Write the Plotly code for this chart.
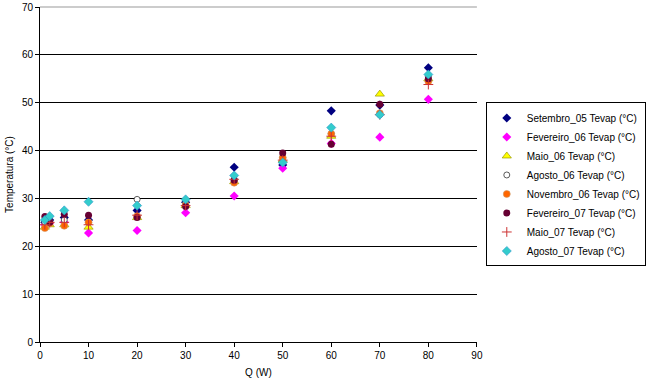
import plotly.graph_objects as go

q_w = [1, 2, 5, 10, 20, 30, 40, 50, 60, 70, 80]

setembro_05 = [25.0, 25.5, 26.0, 25.5, 27.5, 29.2, 36.5, 37.0, 48.3, 49.5, 57.3]
fevereiro_06 = [24.5, 24.8, 25.0, 22.8, 23.3, 27.0, 30.5, 36.3, 41.5, 42.8, 50.7]
maio_06 = [24.0, 24.5, 24.5, 24.0, 26.0, 28.5, 33.5, 38.0, 43.0, 51.8, 55.0]
agosto_06 = [25.0, 25.2, 25.5, 25.0, 29.8, 29.0, 34.0, 38.5, 43.5, 47.5, 55.5]
novembro_06 = [23.8, 24.8, 24.3, 25.0, 26.3, 28.6, 33.3, 38.5, 43.5, 47.8, 54.5]
fevereiro_07 = [26.2, 25.0, 26.7, 26.5, 26.0, 28.3, 33.8, 39.5, 41.3, 49.7, 55.0]
maio_07 = [24.5, 25.0, 25.0, 24.5, 26.5, 28.5, 34.0, 38.0, 43.0, 47.5, 53.8]
agosto_07 = [25.5, 26.3, 27.5, 29.3, 28.5, 29.8, 34.8, 37.5, 44.8, 47.5, 55.9]

series = [
    ("Setembro_05 Tevap (°C)", setembro_05, dict(symbol="diamond", color="#000080", size=7)),
    ("Fevereiro_06 Tevap (°C)", fevereiro_06, dict(symbol="diamond", color="#FF00FF", size=7)),
    ("Maio_06 Tevap (°C)", maio_06, dict(symbol="triangle-up", color="#FFFF00", size=8, line=dict(color="#999900", width=0.7))),
    ("Agosto_06 Tevap (°C)", agosto_06, dict(symbol="circle", color="#FFFFFF", size=6, line=dict(color="#333333", width=0.8))),
    ("Novembro_06 Tevap (°C)", novembro_06, dict(symbol="circle", color="#FF6600", size=7, line=dict(color="#CC9966", width=0.6))),
    ("Fevereiro_07 Tevap (°C)", fevereiro_07, dict(symbol="circle", color="#660033", size=7)),
    ("Maio_07 Tevap (°C)", maio_07, dict(symbol="cross-thin", color="#FF0000", size=7, line=dict(color="#CC3333", width=1))),
    ("Agosto_07 Tevap (°C)", agosto_07, dict(symbol="diamond", color="#33CCCC", size=7, line=dict(color="#3399CC", width=0.6))),
]

fig = go.Figure()
for name, vals, marker in series:
    fig.add_trace(go.Scatter(x=q_w, y=vals, mode="markers", name=name, marker=marker))

font = "Liberation Sans, Arial, sans-serif"
W, H = 646, 386
L, R, T, B = 40, 0, 7, 44
pw = W - L - R
fig.update_layout(
    width=W, height=H,
    margin=dict(l=L, r=R, t=T, b=B, pad=0),
    paper_bgcolor="white", plot_bgcolor="white",
    font=dict(family=font, size=11, color="black"),
    showlegend=True,
    legend=dict(x=451 / pw, y=0.715, xanchor="left", yanchor="top",
                bordercolor="black", borderwidth=1, bgcolor="white",
                font=dict(family=font, size=10), itemwidth=30,
                tracegroupgap=0),
    xaxis=dict(range=[0, 90], dtick=10, showgrid=False, zeroline=False,
               domain=[0, 442 / pw],
               showline=True, linecolor="black", linewidth=1,
               ticks="outside", ticklen=4, tickcolor="black",
               tickfont=dict(size=10), automargin=False,
               title=dict(text="Q (W)", font=dict(size=10), standoff=8)),
    yaxis=dict(range=[0, 70], dtick=10, showgrid=True, gridcolor="black", gridwidth=1,
               zeroline=False, showline=True, linecolor="black", linewidth=1,
               ticks="outside", ticklen=4, tickcolor="black",
               tickfont=dict(size=10), automargin=False,
               title=dict(text="Temperatura (°C)", font=dict(size=10), standoff=6)),
)
fig.add_shape(type="line", xref="x domain", yref="paper", x0=0, x1=1, y0=1, y1=1,
              line=dict(color="#999999", width=1), layer="above")
fig.write_html("out.html", config={"displayModeBar": False},
               post_script="document.body.style.margin='0';document.body.style.overflow='hidden';")
